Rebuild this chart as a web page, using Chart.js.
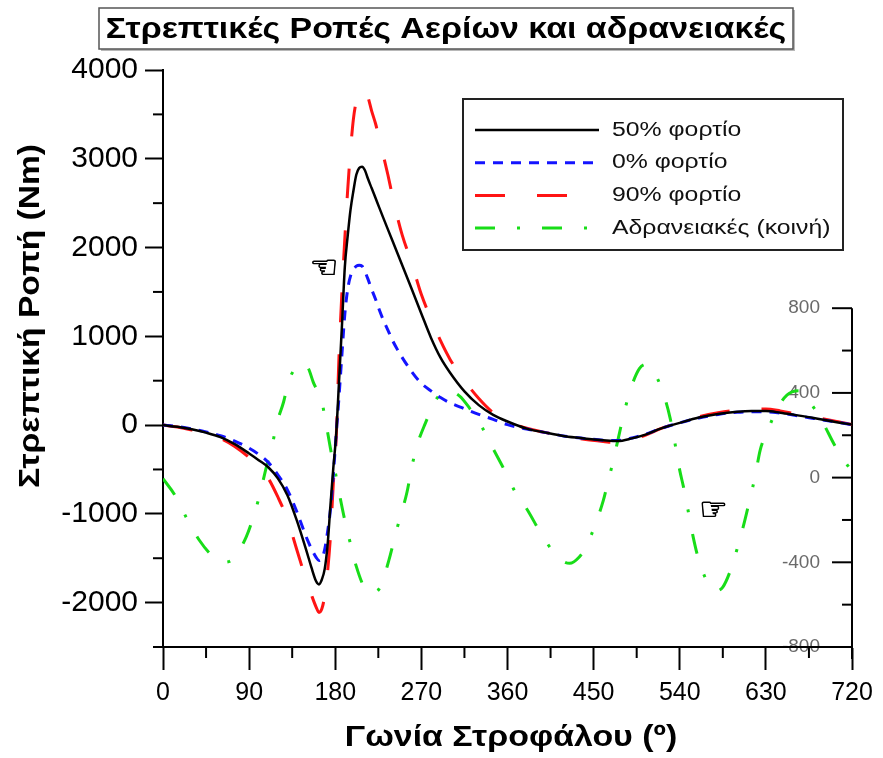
<!DOCTYPE html>
<html>
<head>
<meta charset="utf-8">
<script src="https://cdn.jsdelivr.net/npm/chart.js@4.4.1/dist/chart.umd.min.js"></script>
<style>
  html, body { margin: 0; padding: 0; background: #fff; }
</style>
</head>
<body>
<canvas id="torque" width="883" height="758"></canvas>
<script>
// γωνία στροφάλου (μοίρες) για τις καμπύλες ροπής αερίων
const angle = [0, 15, 30, 45, 60, 75, 90, 100, 110, 120, 130, 140, 150,
  155, 160, 163, 166, 169, 172, 175, 178, 181, 184, 187, 190, 193, 196, 199, 202, 205, 208, 211, 214,
  218, 222, 226, 230, 235, 240, 245, 250, 260, 270, 280, 290, 300, 315, 330, 345, 360,
  380, 400, 420, 440, 460, 475, 490, 505, 520, 540, 560, 580, 600, 615, 630, 645, 660, 680, 700, 720]

// ροπή (Nm) ανά φορτίο
const load50 = [0, -20, -48, -85, -135, -215, -320, -395, -475, -600, -790, -1080, -1420,
  -1600, -1760, -1795, -1740, -1620, -1350, -900, -480, -100, 500, 1120, 1780, 2130, 2430, 2640, 2820, 2895, 2910, 2870, 2780,
  2670, 2560, 2450, 2340, 2205, 2070, 1935, 1800, 1530, 1255, 985, 760, 590, 380, 225, 115, 40,
  -40, -85, -125, -150, -170, -180, -150, -105, -40, 25, 85, 125, 150, 158, 158, 140, 115, 80, 40, 5]

const load0 = [0, -15, -42, -78, -120, -180, -260, -330, -420, -560, -730, -980, -1270,
  -1390, -1490, -1525, -1500, -1400, -1200, -950, -560, -100, 330, 800, 1250, 1530, 1680, 1750, 1790, 1800, 1790, 1730, 1650,
  1530, 1420, 1300, 1190, 1070, 950, 850, 760, 600, 470, 385, 310, 250, 185, 120, 65, 5,
  -45, -85, -125, -150, -170, -175, -145, -100, -40, 25, 80, 120, 145, 150, 150, 135, 110, 75, 40, 5]

const load90 = [0, -22, -55, -95, -150, -240, -365, -470, -600, -810, -1060, -1410, -1757,
  -1910, -2050, -2110, -2070, -1920, -1650, -1250, -650, -150, 800, 1500, 2100, 2650, 3100, 3450, 3650, 3750, 3780, 3760, 3700,
  3540, 3400, 3230, 3050, 2820, 2570, 2340, 2140, 1820, 1470, 1200, 950, 740, 500, 300, 140, 40,
  -35, -85, -125, -160, -185, -200, -165, -110, -40, 30, 95, 140, 170, 180, 180, 160, 130, 90, 50, 5]

// αδρανειακή ροπή (κοινή), δεξιός άξονας
const inertiaAngle = [0, 12, 25, 38, 51, 63, 73, 87, 94, 101, 108, 114, 118, 126, 131, 138, 146, 152, 157, 166,
  171, 176, 180, 185, 190, 195, 202, 211, 218, 227, 236, 244, 249, 255, 260, 265, 274, 286, 298, 310,
  320, 334, 342, 357, 369, 381, 394, 408, 418, 425, 435, 442, 451, 460, 465, 470, 476, 482, 490, 498,
  505, 515, 524, 530, 535, 540, 544, 549, 554, 559, 568, 578, 585, 593, 601, 608, 613, 619, 624, 632,
  641, 652, 665, 676, 690, 702, 714, 720]
const inertia = [-5, -80, -194, -296, -367, -400, -386, -280, -192, -83, 50, 145, 242, 357, 451, 515, 540, 515, 451, 357,
  239, 113, 26, -92, -202, -296, -419, -524, -545, -517, -391, -249, -170, -68, 50, 145, 255, 373, 410, 385,
  330, 233, 162, 34, -76, -154, -257, -351, -395, -405, -375, -328, -230, -110, -20, 70, 190, 310, 436, 516,
  535, 483, 381, 280, 162, 34, -46, -162, -280, -375, -485, -535, -517, -438, -320, -202, -107, 11, 129, 223,
  318, 390, 410, 357, 256, 152, 67, 30]

const seriesNames = ['50% φορτίο', '0% φορτίο', '90% φορτίο', 'Αδρανειακές (κοινή)']

// υποδιαιρέσεις αξόνων
const xTicks = [0, 90, 180, 270, 360, 450, 540, 630, 720]
const xMinor = [45, 135, 225, 315, 405, 495, 585, 675]
const yTicks = [-2000, -1000, 0, 1000, 2000, 3000, 4000]
const yMinor = [-2500, -1500, -500, 500, 1500, 2500, 3500]
const y2Ticks = [-800, -400, 0, 400, 800]
const y2Minor = [-600, -200, 200, 600]

const FONT = 'Liberation Sans, Arial, sans-serif'

function toPoints(xs, ys) {
    let pts = []
    for (let i = 0; i < xs.length; i++) {
        pts.push({ x: xs[i], y: ys[i] })
    }
    return pts
}

function line(ctx, x1, y1, x2, y2) {
    ctx.beginPath()
    ctx.moveTo(x1, y1)
    ctx.lineTo(x2, y2)
    ctx.stroke()
}

// κείμενο με οριζόντιο τέντωμα (sx) και προαιρετική περιστροφή
function wideText(ctx, text, x, y, sx, rot) {
    ctx.save()
    ctx.translate(x, y)
    if (rot) ctx.rotate(rot)
    ctx.scale(sx, 1)
    ctx.fillText(text, 0, 0)
    ctx.restore()
}

// τίτλος σε πλαίσιο, δεξιός άξονας, υποδιαιρέσεις, υπόμνημα
const decor = {
    id: 'decor',
    beforeDraw(chart) {
        const ctx = chart.ctx, ca = chart.chartArea, y2 = chart.scales.y2
        ctx.save()
        ctx.fillStyle = '#6a6a6a'
        ctx.font = '19px ' + FONT
        ctx.textAlign = 'right'
        ctx.textBaseline = 'middle'
        for (const v of y2Ticks) {
            ctx.fillText(String(v), ca.right - 32, y2.getPixelForValue(v))
        }
        ctx.restore()
    },
    beforeDatasetsDraw(chart) {
        const ctx = chart.ctx, ca = chart.chartArea
        const xs = chart.scales.x, ys = chart.scales.y, y2 = chart.scales.y2
        ctx.save()
        ctx.strokeStyle = '#000'
        ctx.lineWidth = 2
        for (const v of yMinor) {
            const py = ys.getPixelForValue(v)
            line(ctx, ca.left - 10, py, ca.left, py)
        }
        for (const v of xMinor) {
            const px = xs.getPixelForValue(v)
            line(ctx, px, ca.bottom, px, ca.bottom + 11)
        }
        // δεξιός άξονας της αδρανειακής ροπής
        line(ctx, ca.right, y2.getPixelForValue(800), ca.right, ca.bottom + 12)
        for (const v of y2Ticks) {
            const py = y2.getPixelForValue(v)
            line(ctx, ca.right - 20, py, ca.right, py)
        }
        for (const v of y2Minor) {
            const py = y2.getPixelForValue(v)
            line(ctx, ca.right - 10, py, ca.right, py)
        }
        ctx.restore()
    },
    afterDraw(chart) {
        const ctx = chart.ctx, ca = chart.chartArea
        const xs = chart.scales.x, ys = chart.scales.y, y2 = chart.scales.y2
        ctx.save()
        ctx.textAlign = 'center'
        ctx.textBaseline = 'middle'

        // τίτλος
        const title = 'Στρεπτικές Ροπές Αερίων και αδρανειακές'
        const bx = 99, by = 8, bw = 694, bh = 41
        ctx.fillStyle = '#b8b8b8'
        ctx.fillRect(bx + 2, by + 2, bw, bh)
        ctx.fillStyle = '#fff'
        ctx.fillRect(bx, by, bw, bh)
        ctx.strokeStyle = '#555'
        ctx.lineWidth = 1.5
        ctx.strokeRect(bx, by, bw, bh)
        ctx.fillStyle = '#000'
        ctx.font = 'bold 29px ' + FONT
        wideText(ctx, title, bx + bw / 2, 30, 1.17)

        // τίτλοι αξόνων
        ctx.font = 'bold 30px ' + FONT
        wideText(ctx, 'Γωνία Στροφάλου (º)', 511, 738, 1.13)
        wideText(ctx, 'Στρεπτική Ροπή (Nm)', 31, 316, 1.12, -Math.PI / 2)

        // δείκτες αξόνων
        ctx.font = '32px DejaVu Sans'
        ctx.strokeStyle = '#000'
        ctx.lineWidth = 0.8
        let px = xs.getPixelForValue(168), py = ys.getPixelForValue(1750)
        ctx.fillText('☜', px, py)
        ctx.strokeText('☜', px, py)
        px = xs.getPixelForValue(575)
        py = y2.getPixelForValue(-160)
        ctx.fillText('☞', px, py)
        ctx.strokeText('☞', px, py)

        // υπόμνημα
        const lx = ca.right - 389, ly = ca.top + 29
        ctx.fillStyle = '#fff'
        ctx.fillRect(lx, ly, 380, 151)
        ctx.strokeStyle = '#222'
        ctx.lineWidth = 2
        ctx.setLineDash([])
        ctx.strokeRect(lx, ly, 380, 151)
        ctx.font = '20px ' + FONT
        ctx.textAlign = 'left'
        chart.data.datasets.forEach(function (ds, i) {
            const ry = ly + 31 + i * 32.7
            ctx.strokeStyle = ds.borderColor
            ctx.lineWidth = ds.borderWidth
            ctx.setLineDash(ds.borderDash || [])
            line(ctx, lx + 12, ry, lx + 136, ry)
            ctx.setLineDash([])
            ctx.fillStyle = '#111'
            wideText(ctx, ds.label, lx + 149, ry, 1.24)
        })
        ctx.restore()
    }
}

new Chart(document.getElementById('torque'), {
    type: 'line',
    data: {
        datasets: [{
            label: seriesNames[0],
            data: toPoints(angle, load50),
            borderColor: '#000000',
            borderWidth: 2.5,
            yAxisID: 'y'
        }, {
            label: seriesNames[1],
            data: toPoints(angle, load0),
            borderColor: '#1414ff',
            borderWidth: 3,
            borderDash: [10, 8],
            yAxisID: 'y'
        }, {
            label: seriesNames[2],
            data: toPoints(angle, load90),
            borderColor: '#ff1414',
            borderWidth: 3,
            borderDash: [30, 32],
            yAxisID: 'y'
        }, {
            label: seriesNames[3],
            data: toPoints(inertiaAngle, inertia),
            borderColor: '#18dd18',
            borderWidth: 3,
            borderDash: [20, 22, 3, 22],
            yAxisID: 'y2'
        }]
    },
    options: {
        responsive: false,
        animation: false,
        layout: { padding: { top: 70, right: 31, bottom: 0, left: 0 } },
        elements: {
            point: { radius: 0 },
            line: { cubicInterpolationMode: 'monotone', fill: false }
        },
        plugins: {
            legend: { display: false },
            tooltip: { enabled: false }
        },
        scales: {
            x: {
                type: 'linear',
                min: 0,
                max: 720,
                afterBuildTicks: function (s) { s.ticks = xTicks.map(v => ({ value: v })) },
                afterFit: function (s) { s.height = 111 },
                grid: { drawOnChartArea: false, tickLength: 23, tickWidth: 2, tickColor: '#000' },
                border: { color: '#000', width: 2 },
                ticks: {
                    color: '#000', font: { family: FONT, size: 25 }, padding: 8, maxRotation: 0, autoSkip: false,
                    callback: v => String(v)
                }
            },
            y: {
                type: 'linear',
                min: -2500,
                max: 4000,
                afterBuildTicks: function (s) { s.ticks = yTicks.map(v => ({ value: v })) },
                afterFit: function (s) { s.width = 163 },
                grid: { drawOnChartArea: false, tickLength: 18, tickWidth: 2, tickColor: '#000' },
                border: { color: '#000', width: 2 },
                ticks: { color: '#000', font: { family: FONT, size: 30 }, padding: 7, callback: v => String(v) }
            },
            y2: {
                type: 'linear',
                display: false,
                min: -800,
                max: 1925
            }
        }
    },
    plugins: [decor]
})
</script>
</body>
</html>
